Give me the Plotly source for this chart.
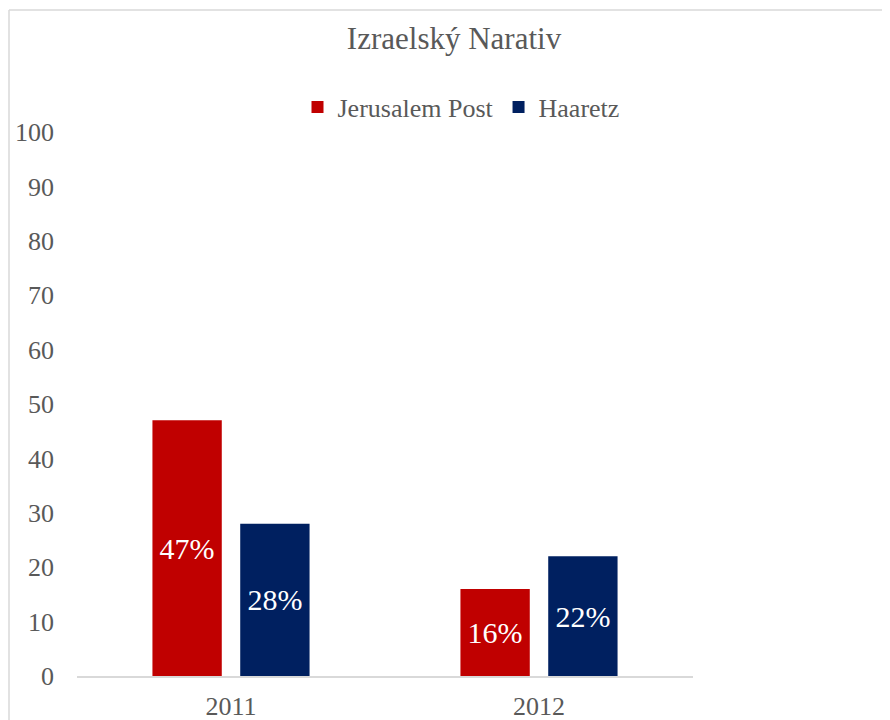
import plotly.graph_objects as go

categories = ["2011", "2012"]
jerusalem_post = [47, 16]
haaretz = [28, 22]
series_names = ["Jerusalem Post", "Haaretz"]
y_ticks = list(range(0, 101, 10))

FONT = "Liberation Serif, Times New Roman, serif"
GRAY = "#595959"

OFF = 8  # page body margin
W, H = 890 - OFF, 720 - OFF
# target screen pixels of plot area
SX0, SX1, SY0, SY1 = 77, 693, 132, 676
L = SX0 - OFF
R = W - (SX1 - OFF)
T = SY0 - OFF
B = H - (SY1 - OFF)
pw, ph = W - L - R, H - T - B


def px_x(p):
    return (p - SX0) / pw


def px_y(p):
    return (SY1 - p) / ph


fig = go.Figure()
for name, vals, col in [(series_names[0], jerusalem_post, "#C00000"),
                        (series_names[1], haaretz, "#002060")]:
    fig.add_trace(go.Bar(
        x=categories, y=vals, name=name,
        marker=dict(color=col, line=dict(width=0)),
        text=[f"{v}%" for v in vals],
        textposition="inside", insidetextanchor="middle", textangle=0,
        constraintext="none",
        textfont=dict(family=FONT, size=30, color="white"),
    ))

fig.update_layout(
    width=W, height=H,
    margin=dict(l=L, r=R, t=T, b=B, autoexpand=False),
    paper_bgcolor="white", plot_bgcolor="white",
    barmode="group", bargap=0.43, bargroupgap=0.21,
    title=dict(text="Izraelský Narativ", x=(454 - OFF) / W, xanchor="center",
               xref="container", y=(H - (38 - OFF)) / H, yanchor="middle",
               yref="container",
               font=dict(family=FONT, size=31, color=GRAY)),
    legend=dict(orientation="h", x=px_x(461), xanchor="center",
                y=px_y(107), yanchor="middle",
                font=dict(family=FONT, size=26, color=GRAY),
                itemwidth=30, bgcolor="rgba(0,0,0,0)"),
    font=dict(family=FONT, color=GRAY),
    xaxis=dict(showline=True, linecolor="#D9D9D9", linewidth=2,
               showgrid=False, ticks="", zeroline=False,
               tickfont=dict(family=FONT, size=26, color=GRAY),
               ticklabelstandoff=6),
    yaxis=dict(range=[0, 100], tickvals=y_ticks, showgrid=False,
               showline=False, zeroline=False, ticks="",
               tickfont=dict(family=FONT, size=26, color=GRAY),
               ticklabelstandoff=22),
)

# chart-area border (left and top visible)
bx, by = px_x(9), px_y(10)
fig.add_shape(type="line", xref="paper", yref="paper",
              x0=bx, x1=bx, y0=px_y(730), y1=by,
              line=dict(color="#D9D9D9", width=1.5))
fig.add_shape(type="line", xref="paper", yref="paper",
              x0=bx, x1=px_x(900), y0=by, y1=by,
              line=dict(color="#D9D9D9", width=1.5))

fig.write_html("out.html")
